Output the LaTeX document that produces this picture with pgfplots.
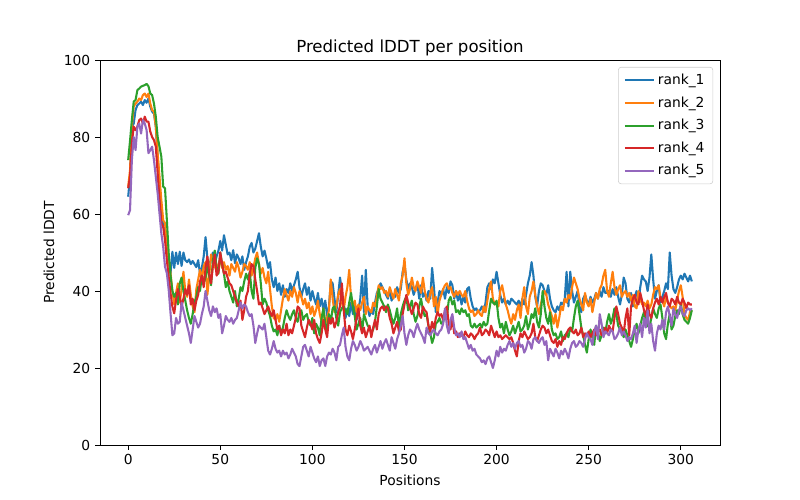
\documentclass[border=0pt]{standalone}
\usepackage{fontspec}
\setmainfont{DejaVu Sans}
\usepackage{pgfplots}
\usepackage{pgfplotstable}
\pgfplotsset{compat=1.18}

\definecolor{c0}{HTML}{1F77B4}
\definecolor{c1}{HTML}{FF7F0E}
\definecolor{c2}{HTML}{2CA02C}
\definecolor{c3}{HTML}{D62728}
\definecolor{c4}{HTML}{9467BD}

% predicted lDDT, one value per position 0..306
\pgfplotstableread[row sep=\\]{y\\
64.5\\ 69.7\\ 82.7\\ 83.5\\ 87.0\\ 88.3\\ 88.7\\ 89.2\\ 88.3\\ 89.6\\
88.9\\ 90.0\\ 87.9\\ 86.6\\ 86.1\\ 82.7\\ 74.9\\ 68.0\\ 61.9\\ 56.7\\
55.9\\ 51.5\\ 48.0\\ 44.6\\ 50.2\\ 46.0\\ 50.0\\ 47.0\\ 50.2\\ 46.5\\
50.0\\ 48.0\\ 47.5\\ 48.2\\ 47.0\\ 47.8\\ 47.0\\ 46.2\\ 48.0\\ 44.5\\
46.0\\ 49.0\\ 54.0\\ 48.5\\ 46.0\\ 48.5\\ 50.0\\ 47.0\\ 49.0\\ 50.5\\
53.0\\ 50.5\\ 54.5\\ 52.0\\ 49.5\\ 50.0\\ 48.0\\ 50.6\\ 47.2\\ 49.5\\
48.5\\ 47.0\\ 49.0\\ 45.5\\ 47.5\\ 49.0\\ 51.5\\ 52.5\\ 50.0\\ 51.0\\
53.0\\ 55.0\\ 51.5\\ 49.0\\ 50.5\\ 48.5\\ 46.0\\ 47.5\\ 43.0\\ 41.0\\
43.5\\ 40.0\\ 42.0\\ 39.0\\ 41.5\\ 38.5\\ 40.5\\ 39.5\\ 42.0\\ 40.0\\
41.5\\ 43.0\\ 45.0\\ 41.0\\ 38.5\\ 40.5\\ 42.0\\ 39.0\\ 41.0\\ 37.5\\
40.0\\ 38.0\\ 36.5\\ 39.5\\ 36.0\\ 38.0\\ 35.0\\ 37.5\\ 33.5\\ 36.0\\
42.5\\ 42.0\\ 38.0\\ 34.5\\ 39.0\\ 43.5\\ 40.0\\ 36.0\\ 33.0\\ 35.5\\
33.5\\ 37.0\\ 34.0\\ 36.5\\ 32.5\\ 35.0\\ 38.0\\ 44.0\\ 34.5\\ 45.5\\
36.0\\ 33.5\\ 35.0\\ 34.0\\ 37.0\\ 39.5\\ 40.5\\ 42.0\\ 41.0\\ 40.0\\
39.0\\ 38.0\\ 40.5\\ 37.5\\ 39.0\\ 38.5\\ 41.0\\ 39.5\\ 40.5\\ 45.0\\
47.0\\ 43.0\\ 40.5\\ 42.0\\ 41.0\\ 39.0\\ 40.5\\ 42.0\\ 38.0\\ 41.5\\
38.5\\ 39.5\\ 37.5\\ 40.0\\ 38.0\\ 46.0\\ 41.0\\ 34.5\\ 37.0\\ 40.0\\
39.0\\ 40.5\\ 38.0\\ 41.0\\ 39.5\\ 42.5\\ 41.5\\ 38.0\\ 40.0\\ 37.5\\
39.0\\ 36.5\\ 38.5\\ 37.0\\ 40.5\\ 41.0\\ 38.0\\ 36.0\\ 35.0\\ 35.5\\
34.5\\ 35.0\\ 36.0\\ 34.5\\ 37.0\\ 41.0\\ 42.0\\ 40.5\\ 43.0\\ 42.0\\
45.0\\ 42.0\\ 39.0\\ 37.0\\ 38.0\\ 36.5\\ 37.5\\ 36.5\\ 38.0\\ 37.5\\
37.0\\ 36.5\\ 37.5\\ 36.0\\ 38.0\\ 36.5\\ 39.0\\ 42.0\\ 44.0\\ 47.5\\
44.0\\ 38.5\\ 36.0\\ 40.0\\ 42.0\\ 41.5\\ 40.0\\ 39.0\\ 41.5\\ 38.0\\
36.0\\ 35.0\\ 34.5\\ 36.0\\ 35.0\\ 37.0\\ 36.5\\ 38.0\\ 45.0\\ 36.0\\
45.0\\ 40.0\\ 37.0\\ 38.5\\ 40.0\\ 36.0\\ 34.5\\ 38.0\\ 39.0\\ 37.5\\
36.5\\ 38.5\\ 37.0\\ 38.0\\ 39.5\\ 38.0\\ 40.0\\ 38.5\\ 41.0\\ 39.5\\
39.5\\ 40.0\\ 38.5\\ 40.5\\ 39.0\\ 41.0\\ 38.5\\ 36.5\\ 39.0\\ 43.5\\
42.0\\ 38.0\\ 37.0\\ 39.5\\ 36.0\\ 38.5\\ 40.0\\ 37.0\\ 41.0\\ 44.0\\
43.0\\ 42.5\\ 40.0\\ 43.5\\ 49.5\\ 43.0\\ 38.0\\ 40.0\\ 41.5\\ 37.0\\
38.5\\ 40.0\\ 42.0\\ 40.5\\ 50.0\\ 44.0\\ 40.5\\ 39.5\\ 41.0\\ 43.0\\
44.0\\ 43.0\\ 44.5\\ 43.5\\ 42.5\\ 44.0\\ 42.5\\
}\rankone

\pgfplotstableread[row sep=\\]{y\\
67.1\\ 71.4\\ 82.7\\ 87.9\\ 88.7\\ 89.2\\ 90.0\\ 89.6\\ 90.9\\ 91.3\\
90.4\\ 91.3\\ 88.7\\ 87.0\\ 86.6\\ 82.7\\ 75.8\\ 69.7\\ 63.6\\ 58.4\\
57.6\\ 52.4\\ 48.0\\ 44.6\\ 40.0\\ 36.5\\ 39.5\\ 42.0\\ 37.0\\ 40.5\\
45.0\\ 40.0\\ 38.5\\ 43.0\\ 39.0\\ 36.0\\ 34.5\\ 40.5\\ 43.0\\ 45.5\\
43.0\\ 46.5\\ 47.5\\ 39.0\\ 44.0\\ 49.5\\ 48.0\\ 46.5\\ 45.0\\ 47.0\\
48.0\\ 46.0\\ 47.5\\ 45.5\\ 46.5\\ 44.0\\ 47.0\\ 46.0\\ 45.0\\ 47.5\\
46.0\\ 43.5\\ 45.0\\ 47.0\\ 46.5\\ 45.5\\ 47.5\\ 44.0\\ 46.0\\ 48.5\\
50.0\\ 47.0\\ 44.5\\ 46.0\\ 43.5\\ 42.0\\ 45.0\\ 40.5\\ 36.0\\ 33.0\\
32.5\\ 34.0\\ 32.0\\ 35.0\\ 38.0\\ 40.5\\ 39.0\\ 37.5\\ 40.0\\ 38.5\\
41.0\\ 39.5\\ 37.0\\ 40.0\\ 38.5\\ 36.5\\ 38.0\\ 35.5\\ 37.0\\ 34.0\\
36.0\\ 33.5\\ 35.0\\ 37.5\\ 34.0\\ 32.0\\ 35.5\\ 31.5\\ 33.0\\ 35.0\\
43.0\\ 38.0\\ 34.5\\ 36.0\\ 39.0\\ 40.5\\ 37.0\\ 35.0\\ 38.5\\ 41.0\\
45.5\\ 38.0\\ 36.0\\ 37.5\\ 34.5\\ 36.5\\ 35.0\\ 37.0\\ 38.5\\ 34.0\\
36.0\\ 35.0\\ 34.5\\ 37.0\\ 36.0\\ 38.5\\ 41.5\\ 40.5\\ 41.0\\ 39.5\\
40.0\\ 38.5\\ 41.0\\ 39.5\\ 38.0\\ 40.5\\ 39.0\\ 37.5\\ 42.0\\ 44.0\\
48.5\\ 42.0\\ 39.0\\ 40.5\\ 43.5\\ 41.0\\ 40.0\\ 42.5\\ 41.0\\ 39.5\\
43.5\\ 40.0\\ 38.0\\ 37.0\\ 39.5\\ 41.0\\ 36.0\\ 38.5\\ 34.0\\ 37.5\\
39.0\\ 40.5\\ 41.5\\ 42.0\\ 40.5\\ 41.0\\ 39.5\\ 38.5\\ 40.0\\ 39.0\\
40.0\\ 39.0\\ 38.5\\ 40.0\\ 37.5\\ 35.5\\ 34.5\\ 35.0\\ 33.5\\ 34.0\\
35.0\\ 34.0\\ 33.5\\ 36.0\\ 34.5\\ 37.5\\ 40.5\\ 42.5\\ 38.0\\ 36.5\\
37.0\\ 36.0\\ 40.0\\ 41.5\\ 39.0\\ 36.5\\ 35.0\\ 33.0\\ 31.5\\ 34.0\\
32.5\\ 35.0\\ 36.5\\ 33.0\\ 38.0\\ 41.0\\ 36.0\\ 34.0\\ 38.5\\ 40.0\\
42.5\\ 39.0\\ 36.0\\ 34.0\\ 36.5\\ 38.5\\ 40.0\\ 39.0\\ 36.5\\ 35.0\\
33.5\\ 31.5\\ 34.0\\ 30.5\\ 33.0\\ 36.0\\ 35.0\\ 38.0\\ 37.0\\ 39.0\\
38.0\\ 41.0\\ 43.5\\ 42.0\\ 40.5\\ 38.0\\ 36.5\\ 35.0\\ 39.5\\ 37.0\\
36.0\\ 38.0\\ 34.5\\ 37.0\\ 39.5\\ 38.0\\ 40.5\\ 41.5\\ 44.0\\ 45.5\\
40.0\\ 38.5\\ 42.0\\ 45.0\\ 41.0\\ 39.0\\ 40.5\\ 41.5\\ 38.5\\ 39.5\\
40.0\\ 38.5\\ 39.5\\ 37.5\\ 39.0\\ 36.0\\ 35.5\\ 40.0\\ 38.0\\ 36.5\\
37.0\\ 36.0\\ 37.5\\ 35.5\\ 36.5\\ 39.0\\ 41.0\\ 40.5\\ 41.5\\ 38.0\\
37.5\\ 36.0\\ 38.5\\ 37.0\\ 36.0\\ 35.5\\ 36.0\\ 35.0\\ 37.5\\ 40.0\\
41.5\\ 38.5\\ 34.0\\ 33.0\\ 32.5\\ 34.5\\ 35.0\\
}\ranktwo

\pgfplotstableread[row sep=\\]{y\\
74.0\\ 79.0\\ 84.4\\ 89.2\\ 89.6\\ 92.2\\ 92.6\\ 93.1\\ 93.3\\ 93.5\\
93.8\\ 93.2\\ 91.3\\ 90.9\\ 88.7\\ 85.3\\ 80.0\\ 77.5\\ 74.9\\ 67.1\\
66.7\\ 58.4\\ 49.8\\ 44.0\\ 40.0\\ 38.5\\ 39.5\\ 36.5\\ 42.0\\ 43.5\\
40.0\\ 37.5\\ 35.0\\ 33.0\\ 31.5\\ 34.0\\ 37.0\\ 38.5\\ 41.0\\ 40.0\\
44.0\\ 42.0\\ 43.5\\ 46.5\\ 44.0\\ 41.5\\ 48.0\\ 50.5\\ 46.0\\ 44.5\\
50.0\\ 47.0\\ 44.5\\ 41.0\\ 42.5\\ 40.0\\ 38.5\\ 37.0\\ 40.0\\ 36.0\\
38.0\\ 41.0\\ 40.0\\ 42.5\\ 44.5\\ 43.0\\ 45.0\\ 40.0\\ 38.0\\ 46.0\\
48.5\\ 47.0\\ 42.0\\ 36.5\\ 38.0\\ 37.0\\ 35.0\\ 33.5\\ 31.0\\ 29.5\\
30.0\\ 28.5\\ 31.0\\ 29.0\\ 30.5\\ 33.0\\ 35.0\\ 33.5\\ 32.5\\ 34.0\\
35.0\\ 33.0\\ 32.0\\ 34.5\\ 35.0\\ 32.5\\ 33.5\\ 34.0\\ 32.0\\ 31.0\\
33.0\\ 29.0\\ 31.5\\ 30.5\\ 28.5\\ 33.0\\ 35.5\\ 31.5\\ 30.0\\ 34.0\\
32.0\\ 35.5\\ 36.0\\ 33.0\\ 31.0\\ 34.5\\ 35.5\\ 36.0\\ 35.0\\ 34.0\\
37.0\\ 39.5\\ 36.0\\ 33.5\\ 30.0\\ 31.5\\ 33.0\\ 29.5\\ 34.0\\ 32.5\\
31.0\\ 30.5\\ 29.0\\ 30.0\\ 32.0\\ 36.0\\ 40.5\\ 38.0\\ 37.0\\ 36.0\\
34.5\\ 36.5\\ 35.0\\ 33.0\\ 31.5\\ 33.0\\ 35.5\\ 30.5\\ 34.0\\ 36.0\\
37.5\\ 38.5\\ 35.0\\ 36.0\\ 37.5\\ 34.0\\ 32.0\\ 33.5\\ 36.0\\ 38.0\\
35.0\\ 33.5\\ 34.0\\ 31.0\\ 29.0\\ 26.5\\ 28.0\\ 31.5\\ 32.0\\ 33.0\\
31.5\\ 32.0\\ 34.0\\ 33.0\\ 37.5\\ 38.5\\ 36.5\\ 37.5\\ 34.5\\ 35.0\\
34.0\\ 35.5\\ 34.5\\ 35.0\\ 33.5\\ 34.0\\ 31.0\\ 30.5\\ 31.5\\ 30.5\\
31.0\\ 31.5\\ 30.5\\ 32.0\\ 31.0\\ 31.5\\ 35.0\\ 38.0\\ 37.0\\ 36.5\\
37.5\\ 33.0\\ 30.5\\ 31.5\\ 29.0\\ 32.0\\ 30.0\\ 28.5\\ 29.5\\ 31.0\\
29.0\\ 30.5\\ 32.0\\ 29.5\\ 30.0\\ 31.0\\ 33.5\\ 30.0\\ 31.5\\ 34.0\\
33.0\\ 35.5\\ 32.0\\ 30.5\\ 34.0\\ 40.0\\ 36.0\\ 33.0\\ 31.5\\ 34.5\\
30.0\\ 28.5\\ 29.0\\ 27.5\\ 28.0\\ 29.5\\ 27.0\\ 28.5\\ 29.0\\ 28.0\\
30.5\\ 29.5\\ 33.0\\ 36.0\\ 37.5\\ 34.0\\ 30.5\\ 28.5\\ 26.0\\ 24.0\\
27.5\\ 30.0\\ 28.0\\ 26.0\\ 31.0\\ 29.5\\ 27.0\\ 28.5\\ 30.5\\ 29.0\\
32.0\\ 34.0\\ 31.5\\ 33.0\\ 35.5\\ 34.0\\ 31.0\\ 30.0\\ 29.5\\ 28.0\\
30.0\\ 28.5\\ 27.0\\ 25.5\\ 27.5\\ 30.0\\ 31.5\\ 29.0\\ 31.0\\ 33.0\\
34.5\\ 32.5\\ 31.0\\ 30.5\\ 33.0\\ 35.5\\ 34.0\\ 33.0\\ 35.5\\ 36.5\\
33.0\\ 29.0\\ 27.5\\ 31.5\\ 34.0\\ 30.0\\ 31.0\\ 33.5\\ 35.0\\ 34.0\\
36.5\\ 34.0\\ 32.5\\ 32.0\\ 31.5\\ 33.0\\ 35.0\\
}\rankthree

\pgfplotstableread[row sep=\\]{y\\
66.7\\ 69.7\\ 78.4\\ 82.7\\ 81.8\\ 82.7\\ 84.4\\ 84.8\\ 83.5\\ 85.3\\
84.0\\ 84.0\\ 81.4\\ 80.0\\ 79.2\\ 77.5\\ 70.6\\ 63.6\\ 57.6\\ 56.7\\
53.2\\ 48.0\\ 43.7\\ 39.4\\ 35.9\\ 34.2\\ 37.7\\ 40.5\\ 38.5\\ 36.0\\
38.0\\ 40.5\\ 39.0\\ 41.5\\ 36.5\\ 38.0\\ 35.0\\ 37.5\\ 39.0\\ 42.5\\
44.0\\ 41.0\\ 46.0\\ 49.0\\ 44.5\\ 42.0\\ 46.5\\ 49.5\\ 44.0\\ 45.0\\
50.0\\ 47.0\\ 44.5\\ 45.0\\ 43.5\\ 42.0\\ 41.5\\ 40.0\\ 38.5\\ 37.0\\
36.0\\ 37.5\\ 32.5\\ 35.0\\ 38.5\\ 40.0\\ 44.5\\ 47.0\\ 46.5\\ 43.0\\
40.0\\ 36.5\\ 37.0\\ 35.5\\ 34.0\\ 35.0\\ 36.0\\ 34.5\\ 33.5\\ 35.0\\
32.5\\ 30.0\\ 31.0\\ 28.5\\ 30.0\\ 29.0\\ 31.5\\ 28.5\\ 30.0\\ 29.0\\
31.0\\ 33.0\\ 36.0\\ 35.5\\ 31.0\\ 29.5\\ 28.0\\ 30.5\\ 32.5\\ 31.5\\
30.0\\ 32.5\\ 29.0\\ 27.5\\ 26.5\\ 29.0\\ 32.5\\ 30.0\\ 28.0\\ 33.0\\
31.5\\ 33.0\\ 30.5\\ 32.0\\ 34.5\\ 36.0\\ 42.0\\ 35.0\\ 30.0\\ 28.5\\
31.0\\ 29.5\\ 27.5\\ 30.0\\ 33.0\\ 35.5\\ 31.0\\ 29.0\\ 30.5\\ 28.0\\
29.5\\ 31.0\\ 28.0\\ 30.5\\ 32.5\\ 30.0\\ 34.0\\ 35.5\\ 36.0\\ 35.0\\
36.0\\ 35.5\\ 33.0\\ 31.5\\ 29.0\\ 30.5\\ 32.0\\ 29.5\\ 30.0\\ 34.0\\
36.5\\ 39.0\\ 37.0\\ 35.5\\ 34.0\\ 35.5\\ 37.0\\ 36.5\\ 34.0\\ 33.0\\
36.0\\ 35.0\\ 34.5\\ 31.0\\ 29.5\\ 32.0\\ 30.0\\ 33.0\\ 34.5\\ 33.5\\
34.0\\ 32.5\\ 35.0\\ 36.0\\ 31.5\\ 30.0\\ 33.0\\ 29.0\\ 29.5\\ 28.0\\
29.0\\ 28.5\\ 28.0\\ 29.5\\ 28.5\\ 28.0\\ 29.0\\ 28.5\\ 27.5\\ 28.5\\
29.0\\ 30.5\\ 28.5\\ 29.0\\ 30.0\\ 29.5\\ 28.5\\ 31.0\\ 29.5\\ 28.0\\
29.5\\ 28.0\\ 28.5\\ 27.5\\ 28.0\\ 28.5\\ 28.0\\ 27.5\\ 28.0\\ 26.5\\
24.5\\ 23.0\\ 27.0\\ 29.0\\ 28.0\\ 29.5\\ 28.5\\ 27.5\\ 28.0\\ 29.0\\
31.5\\ 28.0\\ 27.0\\ 28.5\\ 30.0\\ 31.0\\ 30.5\\ 29.0\\ 30.0\\ 28.5\\
27.0\\ 26.5\\ 27.5\\ 25.5\\ 27.0\\ 26.0\\ 28.0\\ 27.5\\ 29.0\\ 30.0\\
30.5\\ 29.5\\ 29.0\\ 30.0\\ 28.5\\ 29.0\\ 30.5\\ 28.0\\ 29.0\\ 28.5\\
29.5\\ 28.0\\ 29.0\\ 30.0\\ 28.5\\ 29.5\\ 30.0\\ 28.5\\ 29.0\\ 30.5\\
29.0\\ 31.0\\ 30.0\\ 29.5\\ 33.0\\ 36.0\\ 34.0\\ 31.5\\ 30.5\\ 29.0\\
33.0\\ 35.5\\ 28.5\\ 36.0\\ 38.0\\ 39.0\\ 37.0\\ 36.5\\ 39.5\\ 37.5\\
35.0\\ 33.5\\ 36.5\\ 34.0\\ 33.0\\ 35.5\\ 37.0\\ 38.0\\ 36.5\\ 38.5\\
37.0\\ 38.5\\ 39.5\\ 37.0\\ 36.0\\ 38.0\\ 37.5\\ 36.5\\ 38.5\\ 37.0\\
36.5\\ 38.0\\ 37.0\\ 35.5\\ 37.0\\ 36.5\\ 36.5\\
}\rankfour

\pgfplotstableread[row sep=\\]{y\\
59.7\\ 61.0\\ 74.0\\ 80.0\\ 76.6\\ 82.7\\ 83.5\\ 80.9\\ 84.4\\ 83.5\\
81.8\\ 75.8\\ 76.6\\ 77.5\\ 74.0\\ 69.7\\ 65.4\\ 60.2\\ 55.0\\ 51.5\\
46.3\\ 44.6\\ 40.3\\ 34.2\\ 28.5\\ 29.0\\ 33.0\\ 31.5\\ 32.0\\ 37.0\\
35.0\\ 33.0\\ 31.0\\ 29.0\\ 26.5\\ 30.0\\ 33.5\\ 32.0\\ 30.5\\ 31.5\\
34.0\\ 36.0\\ 40.0\\ 37.5\\ 35.0\\ 33.5\\ 36.0\\ 34.5\\ 35.5\\ 33.0\\
34.0\\ 29.0\\ 31.0\\ 33.5\\ 32.5\\ 32.0\\ 33.0\\ 31.5\\ 32.5\\ 33.0\\
35.0\\ 37.0\\ 35.5\\ 36.5\\ 36.0\\ 34.5\\ 33.5\\ 34.0\\ 31.0\\ 26.5\\
29.0\\ 31.0\\ 30.5\\ 30.0\\ 31.5\\ 28.0\\ 24.5\\ 23.5\\ 25.0\\ 27.0\\
25.0\\ 24.0\\ 24.5\\ 23.0\\ 24.5\\ 23.5\\ 24.0\\ 22.5\\ 23.5\\ 25.0\\
24.0\\ 23.0\\ 21.0\\ 20.5\\ 23.0\\ 25.5\\ 26.0\\ 24.5\\ 23.0\\ 25.5\\
24.0\\ 22.5\\ 21.5\\ 23.0\\ 20.5\\ 22.0\\ 22.5\\ 20.5\\ 23.0\\ 24.0\\
23.5\\ 25.0\\ 24.0\\ 22.0\\ 25.5\\ 26.0\\ 28.5\\ 30.5\\ 25.5\\ 23.0\\
22.0\\ 25.0\\ 27.0\\ 26.0\\ 24.5\\ 25.5\\ 27.0\\ 26.0\\ 24.5\\ 25.0\\
25.5\\ 24.5\\ 23.5\\ 25.0\\ 26.0\\ 24.0\\ 25.5\\ 27.0\\ 25.0\\ 26.5\\
27.5\\ 26.0\\ 24.5\\ 28.0\\ 26.5\\ 25.0\\ 27.5\\ 29.0\\ 31.0\\ 33.5\\
29.0\\ 26.0\\ 28.5\\ 30.0\\ 29.5\\ 28.0\\ 30.0\\ 31.5\\ 30.0\\ 29.0\\
28.0\\ 26.5\\ 30.5\\ 29.0\\ 28.5\\ 29.5\\ 30.0\\ 29.0\\ 28.5\\ 29.5\\
30.0\\ 31.5\\ 35.5\\ 31.0\\ 29.0\\ 32.5\\ 34.0\\ 30.5\\ 28.5\\ 29.0\\
28.0\\ 29.5\\ 27.5\\ 28.0\\ 26.5\\ 25.0\\ 26.0\\ 24.5\\ 25.0\\ 23.5\\
23.0\\ 22.5\\ 21.5\\ 22.0\\ 21.0\\ 22.5\\ 23.0\\ 21.5\\ 20.0\\ 22.0\\
24.5\\ 23.0\\ 25.5\\ 24.0\\ 25.0\\ 24.5\\ 26.0\\ 27.0\\ 25.5\\ 26.5\\
25.0\\ 26.5\\ 27.0\\ 25.5\\ 26.0\\ 24.0\\ 25.0\\ 27.0\\ 26.5\\ 25.0\\
27.5\\ 28.0\\ 27.0\\ 26.5\\ 27.5\\ 28.0\\ 26.0\\ 27.0\\ 22.0\\ 25.0\\
24.0\\ 23.0\\ 25.0\\ 24.0\\ 22.5\\ 24.5\\ 23.5\\ 25.0\\ 24.0\\ 22.5\\
25.0\\ 26.5\\ 27.0\\ 25.5\\ 26.0\\ 27.0\\ 26.5\\ 25.5\\ 27.5\\ 29.0\\
28.0\\ 27.5\\ 26.0\\ 29.5\\ 31.0\\ 27.5\\ 34.0\\ 31.5\\ 28.0\\ 29.5\\
29.0\\ 28.5\\ 30.0\\ 29.5\\ 27.5\\ 28.0\\ 29.0\\ 30.5\\ 28.5\\ 29.5\\
28.5\\ 27.0\\ 28.0\\ 27.5\\ 29.0\\ 31.0\\ 26.5\\ 30.0\\ 31.5\\ 28.0\\
33.0\\ 30.5\\ 35.0\\ 29.0\\ 31.5\\ 27.0\\ 24.5\\ 29.0\\ 31.0\\ 30.0\\
32.5\\ 30.0\\ 34.5\\ 36.0\\ 33.5\\ 31.0\\ 35.5\\ 34.0\\ 33.0\\ 35.0\\
36.0\\ 34.0\\ 33.5\\ 35.0\\ 35.5\\ 35.0\\ 35.5\\
}\rankfive

\begin{document}
\begin{tikzpicture}
\begin{axis}[
    scale only axis,
    width=448.1pt, height=278.2pt,
    xmin=-15.3, xmax=321.3,
    ymin=0, ymax=100,
    xtick={0,50,...,300},
    ytick={0,20,...,100},
    tick align=outside,
    tick pos=left,
    major tick length=3.5pt,
    every tick/.style={black, line width=0.6pt},
    axis line style={line width=0.6pt},
    font=\fontsize{10}{12}\selectfont,
    /pgf/number format/assume math mode=true,
    title={Predicted lDDT per position},
    title style={font=\fontsize{12}{14}\selectfont, yshift=-6.5pt},
    xlabel={Positions},
    ylabel={Predicted lDDT},
    every axis plot/.append style={line width=1.5pt, line join=round},
    legend cell align=left,
    legend style={at={(1,1)}, anchor=north east, xshift=-5pt, yshift=-5pt,
        draw=black!20, rounded corners=2pt, fill=white,
        font=\fontsize{10}{12}\selectfont,
        row sep=3.2pt, inner xsep=4pt, inner ysep=3pt},
    legend image code/.code={\draw[#1] (0pt,0pt) -- (21pt,0pt);},
]
\addplot[c0] table[x expr=\coordindex, y=y] {\rankone};
\addlegendentry{rank\_1}
\addplot[c1] table[x expr=\coordindex, y=y] {\ranktwo};
\addlegendentry{rank\_2}
\addplot[c2] table[x expr=\coordindex, y=y] {\rankthree};
\addlegendentry{rank\_3}
\addplot[c3] table[x expr=\coordindex, y=y] {\rankfour};
\addlegendentry{rank\_4}
\addplot[c4] table[x expr=\coordindex, y=y] {\rankfive};
\addlegendentry{rank\_5}
\end{axis}
\path[use as bounding box] (-72.27pt,-39.75pt) rectangle (505.9pt,321.6pt);
\end{tikzpicture}
\end{document}
